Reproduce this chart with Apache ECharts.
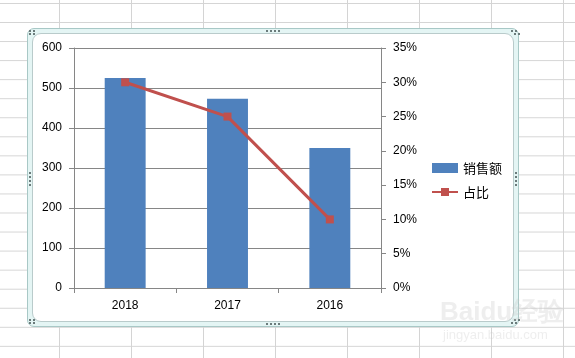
<!DOCTYPE html>
<html>
<head>
<meta charset="utf-8">
<script src="https://cdn.jsdelivr.net/npm/echarts@6/dist/echarts.min.js"></script>
<style>
html,body{margin:0;padding:0;width:575px;height:358px;overflow:hidden;background:#fff;}
#bg{position:absolute;left:0;top:0;width:575px;height:358px;
background-image:linear-gradient(to right,#d4d4d4 1px,transparent 1px),linear-gradient(to bottom,#d4d4d4 1px,transparent 1px);
background-size:72px 100%,100% 19.05px;background-position:59px 0,0 3px;}
#frameOuter{position:absolute;left:27px;top:28px;width:490px;height:297px;border:1px solid #a8c8c6;border-radius:7px;background:#e4f5f4;}
#frameInner{position:absolute;left:32px;top:33px;width:480px;height:287px;border:1px solid #b9cbcb;border-radius:9px;background:#fff;}
#chart{position:absolute;left:0;top:0;width:575px;height:358px;}
</style>
</head>
<body>
<div id="bg"></div>
<div id="frameOuter"></div>
<div id="frameInner"></div>
<div id="chart"></div>
<script>
const categories = ['2018', '2017', '2016'];
const salesValues = [525, 473, 350];
const shareValues = [30, 25, 10];
const seriesNames = ['销售额', '占比'];

const chart = echarts.init(document.getElementById('chart'), null, {renderer: 'canvas'});
const FONT = '"Liberation Sans", Arial, sans-serif';
const axisGray = '#868686';

function dots(x, y, horizontal, n) {
  const arr = [];
  for (let i = 0; i < n; i++) {
    arr.push({type: 'rect', silent: true, z: 5,
      shape: {x: horizontal ? x + i * 4 : x, y: horizontal ? y : y + i * 4, width: 2, height: 2},
      style: {fill: '#6b7b7b'}});
  }
  return arr;
}

const graphics = [
  {type: 'text', silent: true, z: 6, left: 440, top: 300,
   style: {text: 'Baidu经验', fill: 'rgba(200,200,200,0.3)', font: 'bold 26px ' + FONT}},
  {type: 'text', silent: true, z: 6, left: 443, top: 329,
   style: {text: 'jingyan.baidu.com', fill: 'rgba(200,200,200,0.3)', font: '13px ' + FONT}}
].concat(
  dots(29, 30, true, 2), dots(29, 33, true, 2),
  dots(511, 30, true, 2), dots(514, 33, true, 2),
  dots(29, 319, true, 2), dots(29, 322, true, 2),
  dots(511, 322, true, 2), dots(514, 319, true, 2),
  dots(266, 30, true, 4), dots(266, 323, true, 4),
  dots(29, 172, false, 4), dots(515, 172, false, 4)
);

chart.setOption({
  animation: false,
  backgroundColor: 'transparent',
  textStyle: {fontFamily: FONT},
  graphic: graphics,
  grid: {left: 74, right: 194, top: 48, bottom: 70, containLabel: false},
  legend: {
    orient: 'vertical', left: 426, top: 156, itemGap: 10,
    itemWidth: 26, itemHeight: 10,
    textStyle: {fontSize: 13, color: '#000', lineHeight: 14, fontFamily: '"Noto Sans CJK SC", sans-serif'},
    data: [{name: seriesNames[0], icon: 'rect', itemStyle: {}}, {name: seriesNames[1]}]
  },
  xAxis: {
    type: 'category', data: categories, boundaryGap: true,
    axisLine: {show: true, lineStyle: {color: axisGray, width: 1}},
    axisTick: {show: true, length: 5, lineStyle: {color: axisGray}},
    axisLabel: {color: '#000', fontSize: 12, margin: 12},
    splitLine: {show: false}
  },
  yAxis: [
    {type: 'value', min: 0, max: 600, interval: 100,
     axisLine: {show: true, lineStyle: {color: axisGray, width: 1}},
     axisTick: {show: true, length: 5, lineStyle: {color: axisGray}},
     axisLabel: {color: '#000', fontSize: 12, margin: 12},
     splitLine: {show: true, lineStyle: {color: axisGray, width: 1}}},
    {type: 'value', min: 0, max: 35, interval: 5, position: 'right',
     axisLine: {show: true, lineStyle: {color: axisGray, width: 1}},
     axisTick: {show: true, length: 5, lineStyle: {color: axisGray}},
     axisLabel: {color: '#000', fontSize: 12, margin: 12, formatter: '{value}%'},
     splitLine: {show: false}}
  ],
  series: [
    {name: seriesNames[0], type: 'bar', data: salesValues, barWidth: '40%',
     itemStyle: {color: '#4f81bd'}, yAxisIndex: 0, z: 2},
    {name: seriesNames[1], type: 'line', data: shareValues, yAxisIndex: 1,
     symbol: 'rect', symbolSize: 8, lineStyle: {color: '#c0504d', width: 3},
     itemStyle: {color: '#c0504d'}, z: 3}
  ]
});
</script>
</body>
</html>
